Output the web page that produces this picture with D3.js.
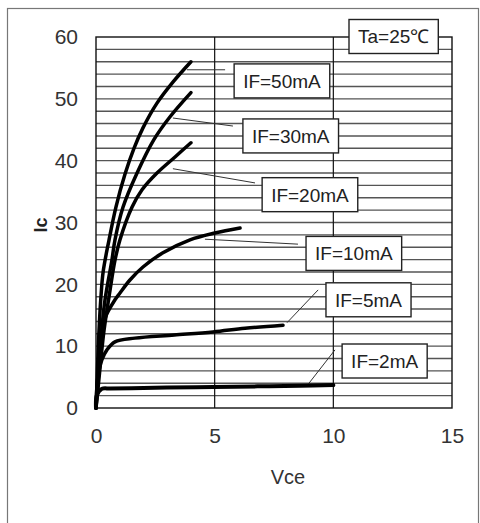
<!DOCTYPE html>
<html>
<head>
<meta charset="utf-8">
<script src="https://cdn.jsdelivr.net/npm/d3@7"></script>
<style>
  body { margin: 0; background: #fff; }
  svg { display: block; font-family: "Liberation Sans", Arial, sans-serif; }
</style>
</head>
<body>
<div id="chart"></div>
<script>
// Vce (V) / Ic (mA), one pair of arrays per curve
const seriesNames = ['IF=50mA', 'IF=30mA', 'IF=20mA', 'IF=10mA', 'IF=5mA', 'IF=2mA'];

const if50Vce = [0, 0.05, 0.12, 0.2, 0.3, 0.55, 0.84, 1.22, 1.6, 1.98, 2.57, 3.24, 4.00];
const if50Ic  = [0, 5, 12, 17.5, 22, 27.2, 32.5, 37.8, 42.0, 45.3, 49.3, 52.7, 56.0];

const if30Vce = [0, 0.08, 0.2, 0.38, 0.67, 0.80, 1.14, 1.73, 2.44, 3.12, 4.00];
const if30Ic  = [0, 5, 11, 17.5, 23.9, 27.2, 32.5, 38.0, 43.4, 47.1, 51.0];

const if20Vce = [0, 0.08, 0.17, 0.34, 0.59, 0.80, 1.01, 1.52, 1.94, 2.57, 3.33, 4.00];
const if20Ic  = [0, 3, 6.5, 12.6, 19.0, 23.9, 27.2, 32.5, 35.3, 38.0, 40.6, 42.9];

const if10Vce = [0, 0.08, 0.21, 0.38, 0.80, 1.01, 1.43, 1.98, 2.82, 3.96, 5.01, 6.07];
const if10Ic  = [0, 4, 10.2, 14.5, 17.5, 18.6, 20.7, 22.8, 25.1, 27.2, 28.3, 29.1];

const if5Vce = [0, 0.08, 0.25, 0.46, 0.80, 1.64, 3.3, 4.93, 6.28, 7.88];
const if5Ic  = [0, 5.0, 7.8, 9.4, 10.7, 11.3, 11.8, 12.3, 12.9, 13.4];

const if2Vce = [0, 0.04, 0.25, 0.6, 1.5, 3.0, 4.93, 6.8, 8.6, 10.0];
const if2Ic  = [0, 2.1, 3.1, 3.15, 3.2, 3.3, 3.4, 3.5, 3.6, 3.7];

const vceList = [if50Vce, if30Vce, if20Vce, if10Vce, if5Vce, if2Vce];
const icList  = [if50Ic, if30Ic, if20Ic, if10Ic, if5Ic, if2Ic];

const xTicks = [0, 5, 10, 15];
const yTicks = [0, 10, 20, 30, 40, 50, 60];

// callouts: box left x / centre y and leader line ends, all in data units
const boxLeft   = [5.82, 6.19, 7.0, 8.85, 9.69, 10.37];
const boxMid    = [52.9, 44.0, 34.5, 25.0, 17.5, 7.6];
const leaderX1  = [3.83, 3.24, 3.24, 4.59, 8.05, 8.85];
const leaderY1  = [54.7, 46.9, 38.7, 27.3, 13.8, 3.4];
const leaderX2  = [5.44, 5.77, 6.70, 8.51, 9.36, 10.07];
const leaderY2  = [54.7, 45.6, 36.4, 26.5, 19.1, 9.4];

const W = 480, H = 523;
const margin = { top: 37, right: 28, bottom: 115, left: 96 };
const width = W - margin.left - margin.right;
const height = H - margin.top - margin.bottom;

const svgRoot = d3.select('#chart').append('svg')
  .attr('width', W)
  .attr('height', H);

// outer frame
svgRoot.append('rect')
  .attr('x', 7.5).attr('y', 8.5)
  .attr('width', 471).attr('height', 530)
  .attr('fill', 'none')
  .attr('stroke', '#777')
  .attr('stroke-width', 1.2);

const svg = svgRoot.append('g')
  .attr('transform', `translate(${margin.left}, ${margin.top})`);

const x = d3.scaleLinear().domain([0, 15]).range([0, width]);
const y = d3.scaleLinear().domain([0, 60]).range([height, 0]);

// horizontal grid every 2 mA
svg.append('g')
  .selectAll('line')
  .data(d3.range(2, 60, 2))
  .join('line')
  .attr('x1', 0).attr('x2', width)
  .attr('y1', d => y(d)).attr('y2', d => y(d))
  .attr('stroke', '#555')
  .attr('stroke-width', 1.4);

// vertical grid at 5 and 10 V
svg.append('g')
  .selectAll('line')
  .data([5, 10])
  .join('line')
  .attr('x1', d => x(d)).attr('x2', d => x(d))
  .attr('y1', 0).attr('y2', height)
  .attr('stroke', '#111')
  .attr('stroke-width', 1.2);

svg.append('rect')
  .attr('width', width).attr('height', height)
  .attr('fill', 'none')
  .attr('stroke', '#111')
  .attr('stroke-width', 1.4);

// axes (only labels are shown)
const xAxis = svg.append('g')
  .attr('transform', `translate(0, ${height})`)
  .call(d3.axisBottom(x).tickValues(xTicks).tickSize(0).tickPadding(20));
const yAxis = svg.append('g')
  .call(d3.axisLeft(y).tickValues(yTicks).tickSize(0).tickPadding(18));
[xAxis, yAxis].forEach(a => {
  a.select('.domain').remove();
  a.selectAll('text')
    .attr('font-size', 21)
    .attr('font-family', '"Liberation Sans", Arial, sans-serif')
    .attr('fill', '#333');
});

svgRoot.append('text')
  .attr('x', 288).attr('y', 484)
  .attr('text-anchor', 'middle')
  .attr('font-size', 20)
  .attr('fill', '#333')
  .text('Vce');

svgRoot.append('text')
  .attr('transform', 'translate(47, 225) rotate(-90)')
  .attr('text-anchor', 'middle')
  .attr('font-size', 18)
  .attr('font-weight', 'bold')
  .attr('fill', '#222')
  .text('Ic');

// leader lines
svg.append('g')
  .selectAll('line')
  .data(seriesNames.map((n, i) => i))
  .join('line')
  .attr('x1', i => x(leaderX1[i])).attr('y1', i => y(leaderY1[i]))
  .attr('x2', i => x(leaderX2[i])).attr('y2', i => y(leaderY2[i]))
  .attr('stroke', '#333')
  .attr('stroke-width', 1);

// curves
const line = d3.line()
  .x(d => x(d[0]))
  .y(d => y(d[1]))
  .curve(d3.curveCatmullRom.alpha(0.5));

svg.append('g')
  .selectAll('path')
  .data(seriesNames.map((n, i) => d3.zip(vceList[i], icList[i])))
  .join('path')
  .attr('d', line)
  .attr('fill', 'none')
  .attr('stroke', '#000')
  .attr('stroke-width', (d, i) => i === 5 ? 4 : 3.5)
  .attr('stroke-linecap', 'round')
  .attr('stroke-linejoin', 'round');

// callout boxes
function callout(g, text, left, mid) {
  const t = g.append('text')
    .attr('x', left + 9)
    .attr('y', mid)
    .attr('dy', '0.36em')
    .attr('font-size', 19)
    .attr('fill', '#222')
    .text(text);
  const w = t.node().getComputedTextLength();
  g.insert('rect', 'text')
    .attr('x', left).attr('y', mid - 17)
    .attr('width', w + 18).attr('height', 34)
    .attr('fill', '#fff')
    .attr('stroke', '#222')
    .attr('stroke-width', 1.4);
}

seriesNames.forEach((name, i) => {
  callout(svg.append('g'), name, x(boxLeft[i]), y(boxMid[i]));
});

callout(svgRoot.append('g'), 'Ta=25℃', 349, 36.5);
</script>
</body>
</html>
